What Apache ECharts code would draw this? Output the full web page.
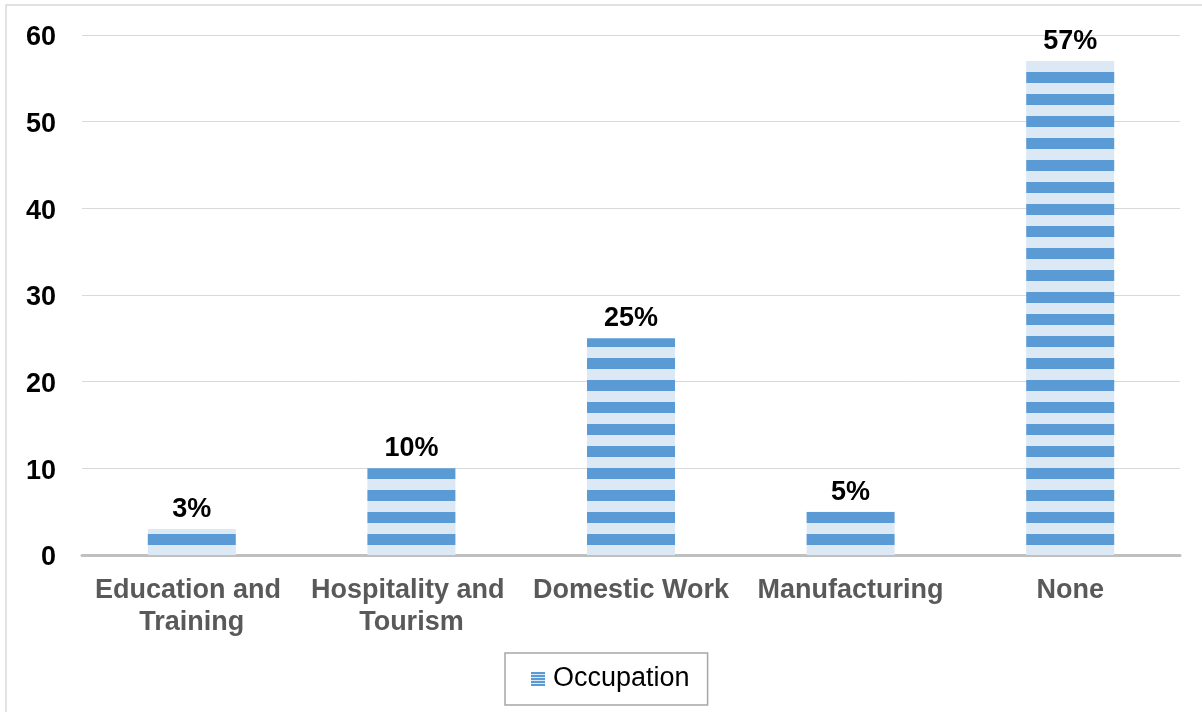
<!DOCTYPE html>
<html>
<head>
<meta charset="utf-8">
<script src="https://cdn.jsdelivr.net/npm/echarts@6/dist/echarts.min.js"></script>
<style>
html,body{margin:0;padding:0;background:#fff;}
#chart{width:1202px;height:712px;}
</style>
</head>
<body>
<div id="chart"></div>
<script>
const categories = ['Education and Training', 'Hospitality and Tourism', 'Domestic Work', 'Manufacturing', 'None'];
const seriesName = 'Occupation';
const values = [3, 10, 25, 5, 57];
const yMin = 0, yMax = 60, yInterval = 10;

const DARK = '#5b9bd5', LIGHT = '#dde8f5';

// stripe pattern for bars (22px period, anchored to canvas origin)
function makeStripe(period, darkStart, darkEnd) {
  const c = document.createElement('canvas');
  c.width = 8; c.height = period;
  const ctx = c.getContext('2d');
  ctx.fillStyle = LIGHT; ctx.fillRect(0, 0, 8, period);
  ctx.fillStyle = DARK; ctx.fillRect(0, darkStart, 8, darkEnd - darkStart);
  return c;
}
const barPattern = makeStripe(22, 6, 17);
const iconPattern = makeStripe(3, 0, 2);

const chart = echarts.init(document.getElementById('chart'), null, {renderer: 'canvas'});
const FONT = '"Liberation Sans", Arial, sans-serif';
chart.setOption({
  animation: false,
  backgroundColor: '#fff',
  textStyle: {fontFamily: FONT},
  graphic: [{
    type: 'rect', silent: true, z: -1,
    shape: {x: 6, y: 5, width: 1400, height: 1000},
    style: {fill: 'none', stroke: '#d9d9d9', lineWidth: 1.5}
  }],
  grid: {left: 82, right: 22, top: 35, bottom: 157},
  legend: {
    left: 505, top: 653,
    padding: [11, 18, 11, 26],
    borderColor: '#a6a6a6', borderWidth: 1.5,
    itemWidth: 14, itemHeight: 14,
    textStyle: {fontSize: 27, color: '#000', fontFamily: FONT, lineHeight: 30, padding: [0, 0, 0, 3]},
    data: [{name: seriesName, icon: 'rect', itemStyle: {color: {image: iconPattern, repeat: 'repeat'}}}]
  },
  xAxis: {
    type: 'category',
    data: categories,
    axisLine: {lineStyle: {color: '#bfbfbf', width: 3}},
    axisTick: {show: false},
    axisLabel: {
      interval: 0, margin: 20,
      fontSize: 27, fontWeight: 'bold', color: '#595959', fontFamily: FONT,
      lineHeight: 32, width: 216, overflow: 'break', align: 'center'
    }
  },
  yAxis: {
    type: 'value', min: yMin, max: yMax, interval: yInterval,
    axisLine: {show: false}, axisTick: {show: false},
    splitLine: {lineStyle: {color: '#d9d9d9', width: 1}},
    axisLabel: {
      margin: 26, formatter: '{v|{value}}',
      rich: {v: {fontSize: 27, fontWeight: 'bold', color: '#000', fontFamily: FONT, padding: [6, 0, 0, 0]}}
    }
  },
  series: [{
    name: seriesName,
    type: 'bar',
    data: values,
    barWidth: 88,
    itemStyle: {color: {image: barPattern, repeat: 'repeat'}},
    label: {
      show: true, position: 'top', distance: 6,
      formatter: p => p.value + '%',
      fontSize: 27, fontWeight: 'bold', color: '#000', fontFamily: FONT
    }
  }]
});
</script>
</body>
</html>
